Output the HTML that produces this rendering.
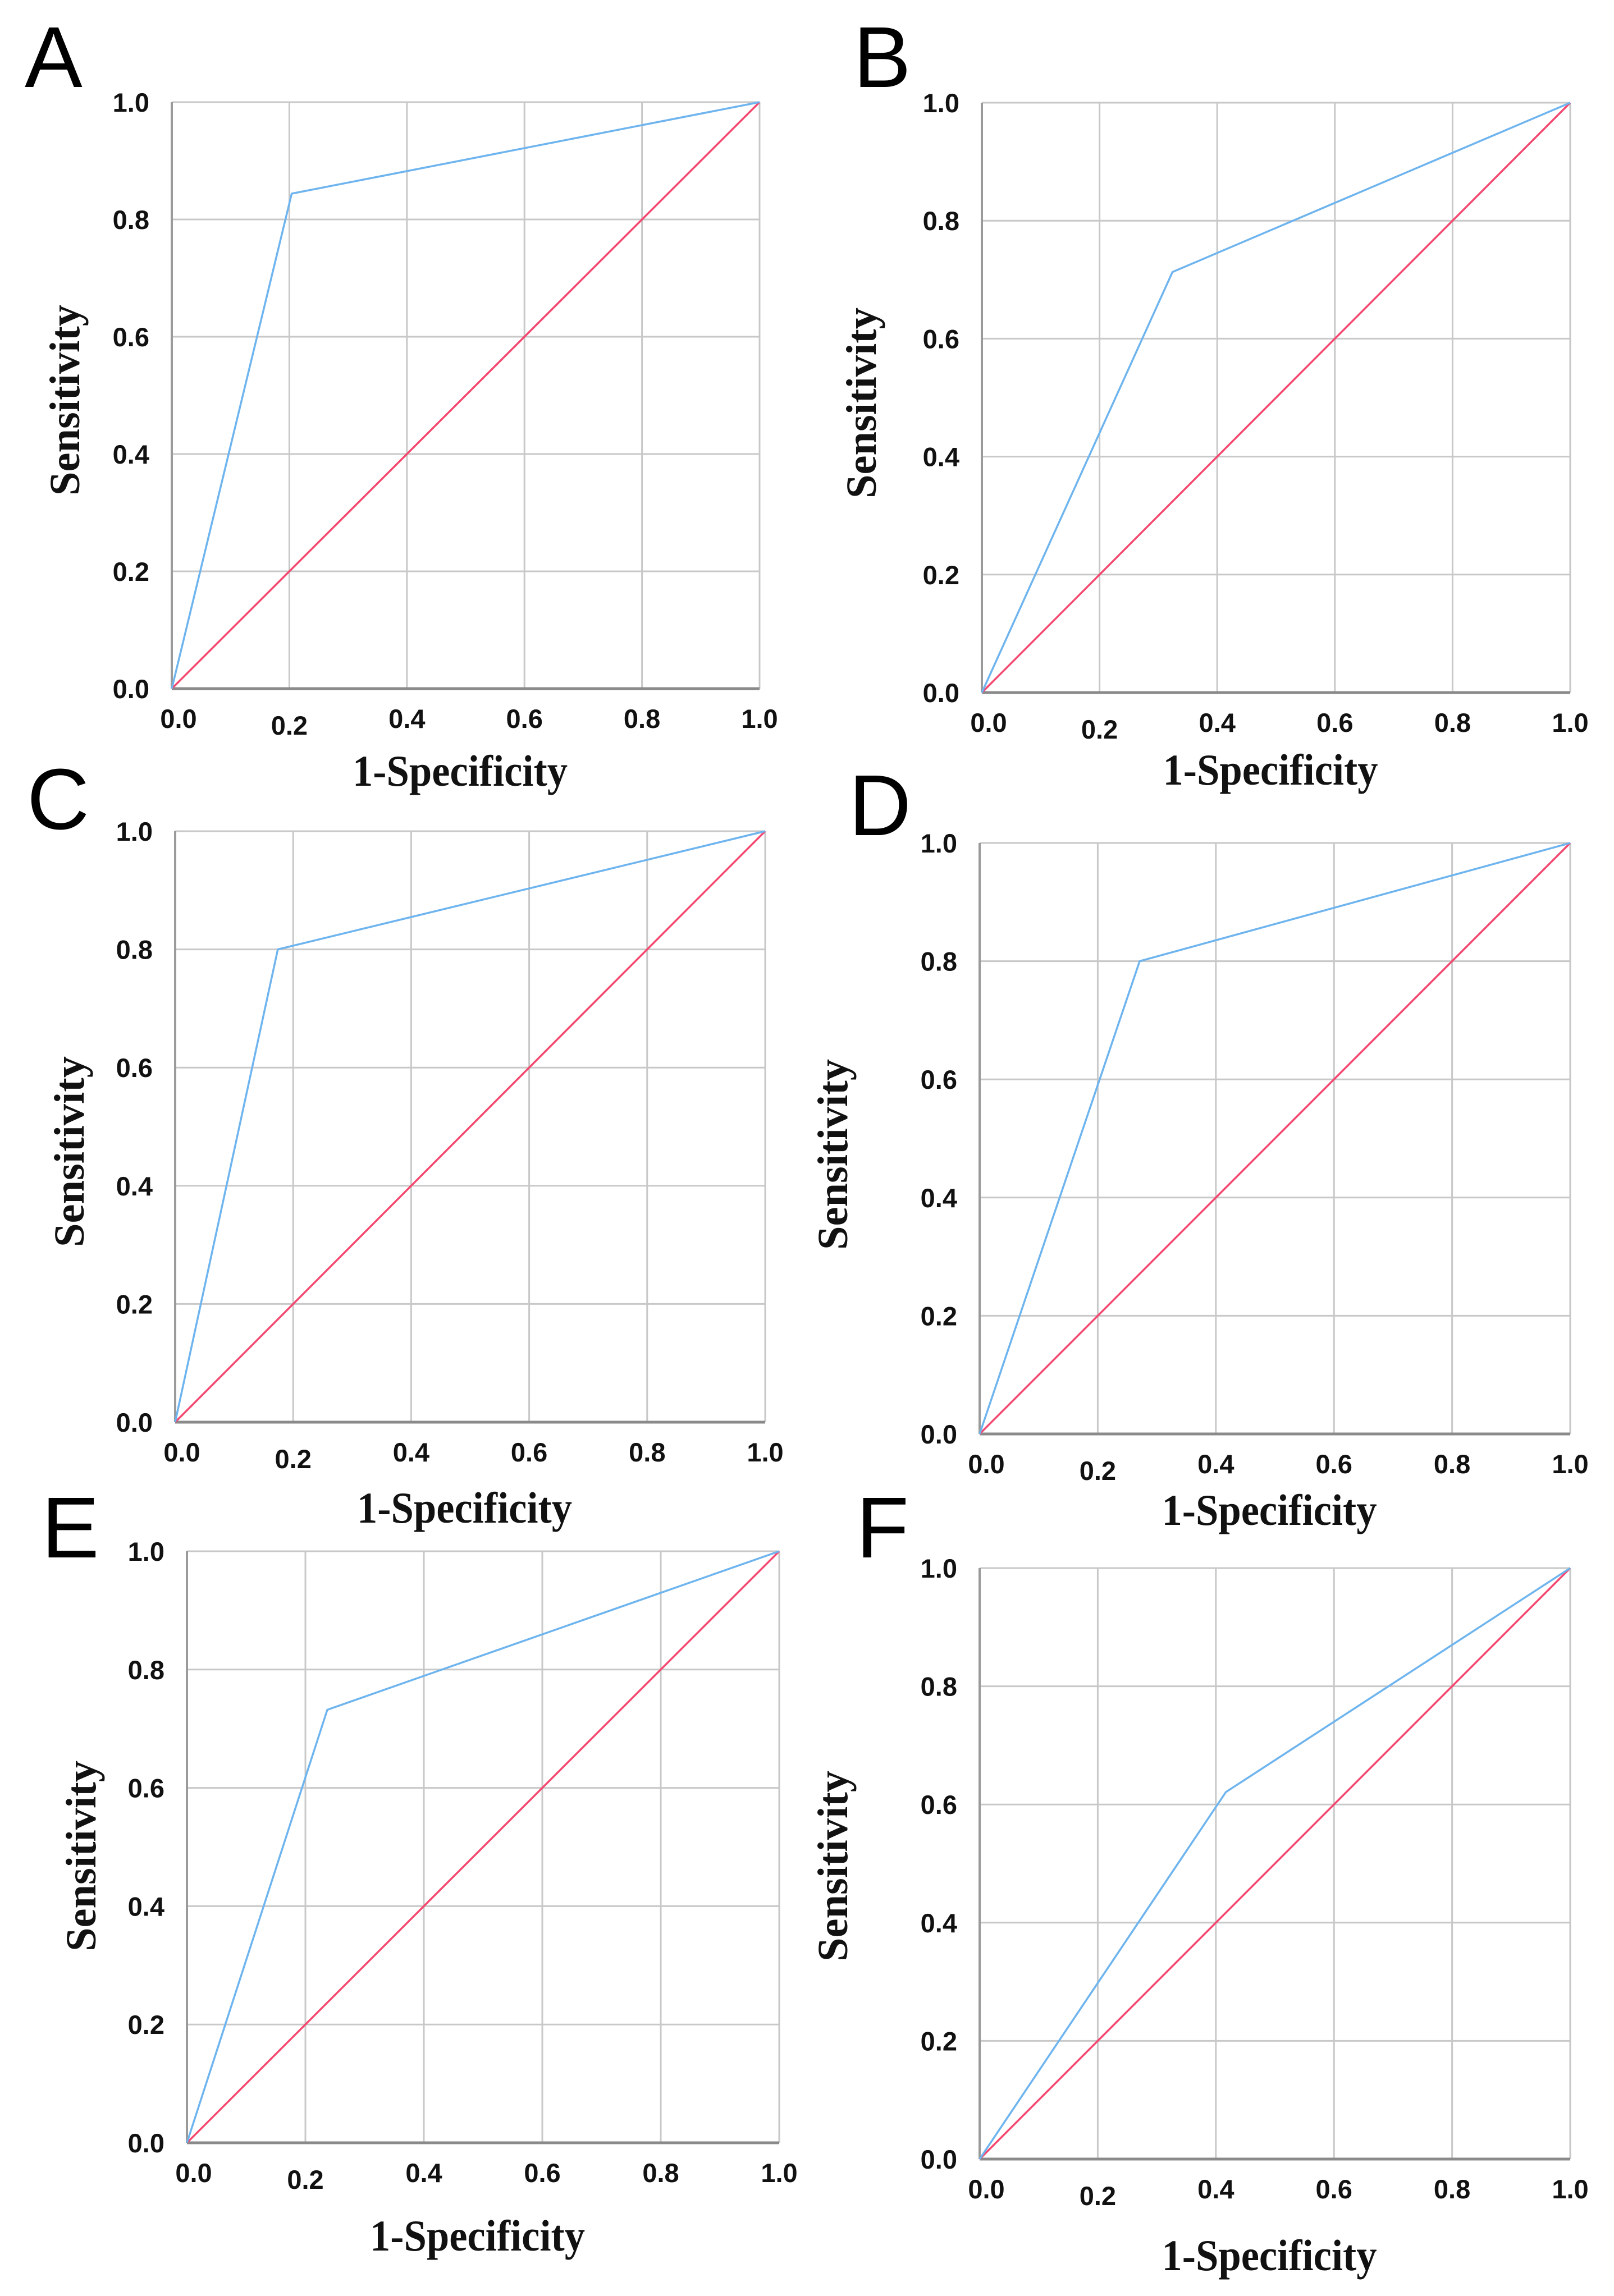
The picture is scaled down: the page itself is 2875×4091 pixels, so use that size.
<!DOCTYPE html>
<html>
<head>
<meta charset="utf-8">
<style>
html,body{margin:0;padding:0;background:#fff;}
svg{display:block;}
</style>
</head>
<body>
<svg id="fig" xmlns="http://www.w3.org/2000/svg" width="2875" height="4091" viewBox="0 0 2875 4091"></svg>
<script>
// ---- data ----
const panelLetters = ['A','B','C','D','E','F'];
const rocX_A = [0, 0.204, 1]; const rocY_A = [0, 0.844, 1];
const rocX_B = [0, 0.324, 1]; const rocY_B = [0, 0.713, 1];
const rocX_C = [0, 0.174, 1]; const rocY_C = [0, 0.800, 1];
const rocX_D = [0, 0.271, 1]; const rocY_D = [0, 0.800, 1];
const rocX_E = [0, 0.237, 1]; const rocY_E = [0, 0.732, 1];
const rocX_F = [0, 0.417, 1]; const rocY_F = [0, 0.621, 1];
const refX = [0, 1]; const refY = [0, 1];
const tickValues = [0, 0.2, 0.4, 0.6, 0.8, 1.0];
const tickLabels = ['0.0','0.2','0.4','0.6','0.8','1.0'];
const xTitle = '1-Specificity';
const yTitle = 'Sensitivity';

// ---- layout (pixels) ----
const layout = [
  {l:306, r:1353, t:182, b:1227, lx:48,  ly:155,  sx:115,  sy:713,  tb:1400},
  {l:1749,r:2797, t:183, b:1234, lx:1524,ly:155,  sx:1534, sy:718,  tb:1398},
  {l:312, r:1363, t:1481,b:2534, lx:52,  ly:1477, sx:123,  sy:2052, tb:2713},
  {l:1745,r:2797, t:1502,b:2555, lx:1516,ly:1488, sx:1483, sy:2057, tb:2717},
  {l:333, r:1388, t:2764,b:3818, lx:78,  ly:2775, sx:144,  sy:3307, tb:4010},
  {l:1745,r:2797, t:2794,b:3847, lx:1529,ly:2775, sx:1483, sy:3325, tb:4045}
];
const rocXs = [rocX_A,rocX_B,rocX_C,rocX_D,rocX_E,rocX_F];
const rocYs = [rocY_A,rocY_B,rocY_C,rocY_D,rocY_E,rocY_F];

const NS = 'http://www.w3.org/2000/svg';
const svg = document.getElementById('fig');
function mk(tag, attrs, parent){
  const e = document.createElementNS(NS, tag);
  for (const k in attrs) e.setAttribute(k, attrs[k]);
  (parent||svg).appendChild(e);
  return e;
}

layout.forEach((L, i) => {
  const xs = v => L.l + v * (L.r - L.l);
  const ys = v => L.b - v * (L.b - L.t);
  const g = mk('g', {});
  
  

  tickValues.forEach((v, k) => {
    const gv = mk('line', {x1:xs(v), x2:xs(v), y1:L.t, y2:L.b, stroke:'#c8c8c8', 'stroke-width':3}, g);
    
    
    const gh = mk('line', {x1:L.l, x2:L.r, y1:ys(v), y2:ys(v), stroke:'#c8c8c8', 'stroke-width':3}, g);
    
    
  });
  const ax = mk('line', {x1:L.l, x2:L.r, y1:L.b, y2:L.b, stroke:'#8a8a8a', 'stroke-width':5}, g);
  
  
  const ay = mk('line', {x1:L.l, x2:L.l, y1:L.t, y2:L.b, stroke:'#9a9a9a', 'stroke-width':4}, g);
  
  

  const rp = refX.map((v, k) => xs(v) + ',' + ys(refY[k])).join(' ');
  const ref = mk('polyline', {points:rp, fill:'none', stroke:'#f4476f', 'stroke-width':3.5}, g);
  
  
  const rx = rocXs[i], ry = rocYs[i];
  const cp = rx.map((v, k) => xs(v) + ',' + ys(ry[k])).join(' ');
  const roc = mk('polyline', {points:cp, fill:'none', stroke:'#6eb4ee', 'stroke-width':3.5, 'stroke-linejoin':'round'}, g);
  
  

  tickValues.forEach((v, k) => {
    const ty = mk('text', {x:L.l - 40, y:ys(v) + 17, 'text-anchor':'end', 'font-family':'Liberation Sans, Arial, sans-serif', 'font-weight':'bold', 'font-size':47, fill:'#111'}, g);
    ty.textContent = tickLabels[k];
    
    
    const off = (k === 1) ? 82 : 70;
    const tx = mk('text', {x:xs(v) + (k===0?12:0), y:L.b + off, 'text-anchor':'middle', 'font-family':'Liberation Sans, Arial, sans-serif', 'font-weight':'bold', 'font-size':47, fill:'#111'}, g);
    tx.textContent = tickLabels[k];
    
    
  });

  const xt = mk('text', {x:(L.l + L.r)/2 - 10, y:L.tb, 'text-anchor':'middle', 'font-family':'Liberation Serif, serif', 'font-weight':'bold', 'font-size':78, fill:'#111', textLength:383, lengthAdjust:'spacingAndGlyphs'}, g);
  xt.textContent = xTitle;
  
  
  const yt = mk('text', {x:0, y:0, 'text-anchor':'middle', 'font-family':'Liberation Serif, serif', 'font-weight':'bold', 'font-size':76, fill:'#111', textLength:340, lengthAdjust:'spacingAndGlyphs', transform:'translate(' + (L.sx + 26) + ',' + L.sy + ') rotate(-90)'}, g);
  yt.textContent = yTitle;
  
  

  const pl = mk('text', {x:L.lx - 4, y:L.ly, 'font-family':'Liberation Sans, Arial, sans-serif', 'font-size':154, fill:'#000'}, g);
  pl.textContent = panelLetters[i];
  
  
});
</script>
</body>
</html>
